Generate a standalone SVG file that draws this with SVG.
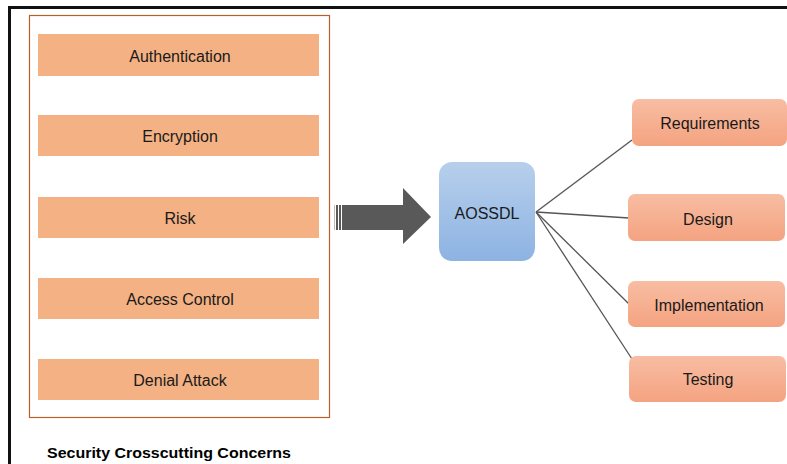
<svg xmlns="http://www.w3.org/2000/svg" width="787" height="464" viewBox="0 0 787 464">
<defs>
<linearGradient id="gOr" x1="0" y1="0" x2="0" y2="1"><stop offset="0" stop-color="#F8BDA3"/><stop offset="1" stop-color="#F4A380"/></linearGradient>
<linearGradient id="gBl" x1="0" y1="0" x2="0" y2="1"><stop offset="0" stop-color="#B7CFEC"/><stop offset="1" stop-color="#8DB3E2"/></linearGradient>
<style>
.t{font-family:"Liberation Sans",Arial,sans-serif;font-size:16px;fill:#1a1a1a;text-anchor:middle;dominant-baseline:central}
.c{fill:#F4B183}
.o{fill:url(#gOr)}
.ln{stroke:#555;stroke-width:1.3;fill:none}
</style>
</defs>
<rect width="787" height="464" fill="#fff"/>
<path d="M9.5 464V7.5H787" fill="none" stroke="#111" stroke-width="3"/>
<rect x="29.5" y="15.5" width="300" height="402" fill="#fff" stroke="#B8602A" stroke-width="1.2"/>
<g id="authentication"><rect class="c" x="38" y="34" width="281" height="42"/><text class="t" x="180" y="56">Authentication</text></g>
<g id="encryption"><rect class="c" x="38" y="115" width="281" height="41"/><text class="t" x="180" y="136">Encryption</text></g>
<g id="risk"><rect class="c" x="38" y="197" width="281" height="41"/><text class="t" x="180" y="218">Risk</text></g>
<g id="access-control"><rect class="c" x="38" y="278" width="281" height="41"/><text class="t" x="180" y="299">Access Control</text></g>
<g id="denial-attack"><rect class="c" x="38" y="359" width="281" height="41"/><text class="t" x="180" y="380">Denial Attack</text></g>
<g id="big-arrow" fill="#595959">
<rect x="334" y="205" width="1" height="25" fill="#bbb"/>
<rect x="336" y="205" width="2" height="25"/>
<rect x="339" y="205" width="2" height="25"/>
<polygon points="342,205 403,205 403,188 431,217 403,244 403,230 342,230"/>
</g>
<g id="connectors" class="ln">
<line x1="536" y1="212" x2="632" y2="140"/>
<line x1="536" y1="212" x2="629" y2="218"/>
<line x1="536" y1="212" x2="629" y2="304"/>
<line x1="536" y1="212" x2="632" y2="359"/>
</g>
<g id="aossdl"><rect x="439" y="162" width="96" height="99" rx="13" fill="url(#gBl)"/><text class="t" x="487" y="213">AOSSDL</text></g>
<g id="requirements"><rect class="o" x="632" y="99" width="155" height="47" rx="7"/><text class="t" x="710" y="123">Requirements</text></g>
<g id="design"><rect class="o" x="628" y="194" width="157" height="47" rx="7"/><text class="t" x="708" y="219">Design</text></g>
<g id="implementation"><rect class="o" x="628" y="281" width="157" height="46" rx="7"/><text class="t" x="709" y="305">Implementation</text></g>
<g id="testing"><rect class="o" x="629" y="356" width="157" height="46" rx="7"/><text class="t" x="708" y="379">Testing</text></g>
<text x="47" y="458" style="font-family:'Liberation Sans',Arial,sans-serif;font-size:15px;font-weight:bold;fill:#000" textLength="244" lengthAdjust="spacingAndGlyphs">Security Crosscutting Concerns</text>
</svg>
